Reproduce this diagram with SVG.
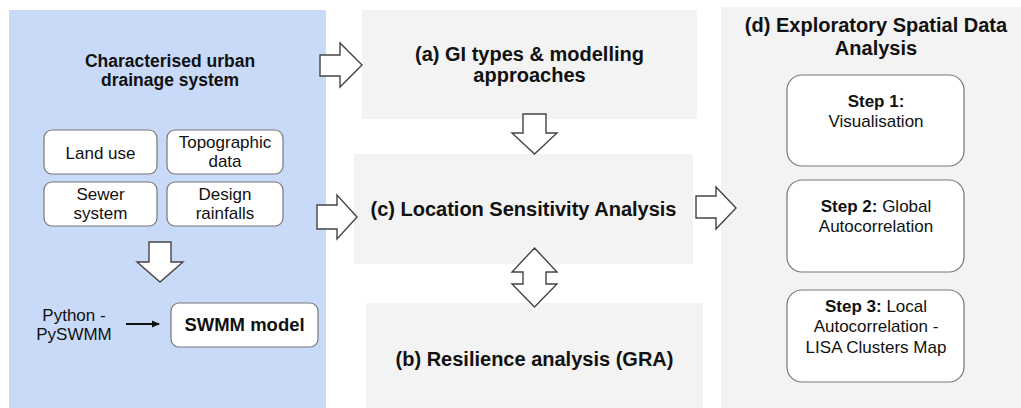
<svg xmlns="http://www.w3.org/2000/svg" width="1021" height="408" viewBox="0 0 1021 408">
<style>
text { font-family: "Liberation Sans", Arial, sans-serif; fill: #111; }
.t17 { font-size: 17px; }
.b17 { font-size: 17.5px; font-weight: bold; }
.b18 { font-size: 18.5px; font-weight: bold; }
.b20 { font-size: 20px; font-weight: bold; }
.panel { fill: #f3f3f3; stroke: none; }
.box { fill: #ffffff; stroke: #777; stroke-width: 1.2; }
.blk { fill: #ffffff; stroke: #444; stroke-width: 1.4; stroke-linejoin: miter; }
</style>
<defs>
<marker id="ah" markerWidth="8" markerHeight="8" refX="7" refY="4" orient="auto" markerUnits="userSpaceOnUse">
<path d="M0,0.5 L8,4 L0,7.5 Z" fill="#111"/>
</marker>
</defs>
<rect width="1021" height="408" fill="#ffffff"/>

<g id="panel-left">
<rect x="9" y="10" width="317" height="398" fill="#c9daf8"/>
<text class="b17" text-anchor="middle" x="170" y="67">Characterised urban</text>
<text class="b17" text-anchor="middle" x="170" y="86">drainage system</text>
</g>
<g id="land-use">
<rect class="box" x="44" y="130" width="113" height="44" rx="8"/>
<text class="t17" text-anchor="middle" x="100.5" y="159">Land use</text>
</g>
<g id="topographic">
<rect class="box" x="167" y="130" width="116" height="44" rx="8"/>
<text class="t17" text-anchor="middle" x="225" y="148">Topographic</text>
<text class="t17" text-anchor="middle" x="225" y="167">data</text>
</g>
<g id="sewer">
<rect class="box" x="44" y="182" width="113" height="44" rx="8"/>
<text class="t17" text-anchor="middle" x="100.5" y="200">Sewer</text>
<text class="t17" text-anchor="middle" x="100.5" y="219">system</text>
</g>
<g id="design">
<rect class="box" x="167" y="182" width="116" height="44" rx="8"/>
<text class="t17" text-anchor="middle" x="225" y="200">Design</text>
<text class="t17" text-anchor="middle" x="225" y="219">rainfalls</text>
</g>
<g id="pyswmm">
<text class="t17" text-anchor="middle" x="74" y="321">Python -</text>
<text class="t17" text-anchor="middle" x="74" y="340">PySWMM</text>
</g>
<g id="swmm">
<rect class="box" x="171" y="303" width="147" height="44" rx="8"/>
<text class="b18" text-anchor="middle" x="244.5" y="331">SWMM model</text>
</g>

<g id="node-a">
<rect class="panel" x="362" y="10" width="335" height="109"/>
<text class="b20" text-anchor="middle" x="529.5" y="61">(a) GI types &amp; modelling</text>
<text class="b20" text-anchor="middle" x="529.5" y="82">approaches</text>
</g>
<g id="node-c">
<rect class="panel" x="354" y="154" width="339" height="110"/>
<text class="b20" text-anchor="middle" x="523.5" y="216">(c) Location Sensitivity Analysis</text>
</g>
<g id="node-b">
<rect class="panel" x="366" y="303" width="337" height="105"/>
<text class="b20" text-anchor="middle" x="534.5" y="366">(b) Resilience analysis (GRA)</text>
</g>
<g id="node-d">
<rect class="panel" x="721" y="7" width="300" height="401"/>
<text class="b20" text-anchor="middle" x="876" y="32">(d) Exploratory Spatial Data</text>
<text class="b20" text-anchor="middle" x="876" y="55">Analysis</text>
</g>
<g id="step1">
<rect class="box" x="787" y="75" width="177" height="91" rx="15"/>
<text class="t17" text-anchor="middle" x="876" y="107"><tspan font-weight="bold">Step 1:</tspan></text>
<text class="t17" text-anchor="middle" x="876" y="127">Visualisation</text>
</g>
<g id="step2">
<rect class="box" x="787" y="180" width="177" height="92" rx="15"/>
<text class="t17" text-anchor="middle" x="876" y="212"><tspan font-weight="bold">Step 2:</tspan> Global</text>
<text class="t17" text-anchor="middle" x="876" y="232">Autocorrelation</text>
</g>
<g id="step3">
<rect class="box" x="787" y="290" width="177" height="92" rx="15"/>
<text class="t17" text-anchor="middle" x="876" y="312"><tspan font-weight="bold">Step 3:</tspan> Local</text>
<text class="t17" text-anchor="middle" x="876" y="332">Autocorrelation -</text>
<text class="t17" text-anchor="middle" x="876" y="353">LISA Clusters Map</text>
</g>

<g id="connectors">
<polygon class="blk" points="320,55 340,55 340,43 362,65 340,87 340,76 320,76"/>
<polygon class="blk" points="317,205 337,205 337,195 357,217 337,239 337,229 317,229"/>
<polygon class="blk" points="523,114 546,114 546,133 557,133 534.5,154 512,133 523,133"/>
<polygon class="blk" points="534.5,248 557,272 546,272 546,284 557,284 534.5,307 512,284 523,284 523,272 512,272"/>
<polygon class="blk" points="696,196 716,196 716,187 736,208 716,229 716,218 696,218"/>
<polygon class="blk" points="149,242 171,242 171,262 183,262 160,282 137,262 149,262"/>
<line x1="126" y1="324" x2="159" y2="324" stroke="#111" stroke-width="2" marker-end="url(#ah)"/>
</g>
</svg>
